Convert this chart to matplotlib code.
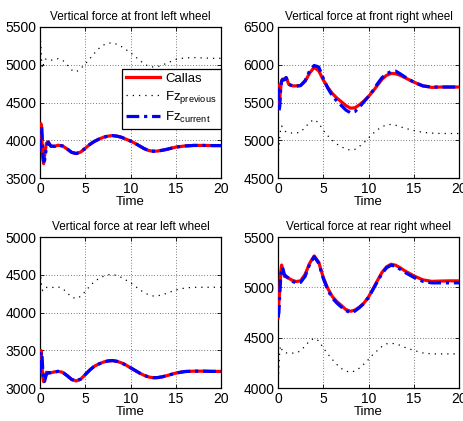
import matplotlib
matplotlib.use("Agg")
import matplotlib.pyplot as plt

plt.rcParams["font.family"] = ["Liberation Sans", "DejaVu Sans"]
plt.rcParams["mathtext.default"] = "regular"

# sample times (s), shared by every series
T = [0, 0.1, 0.2, 0.3, 0.4, 0.5, 0.7, 0.9, 1.2, 1.6, 2.0, 2.5, 3.0, 3.5, 4.0, 4.5,
     5.0, 5.5, 6.0, 6.5, 7.0, 7.5, 8.0, 8.5, 9.0, 9.5, 10.0, 10.5, 11.0, 11.5, 12.0,
     12.5, 13.0, 13.5, 14.0, 15.0, 16.0, 17.0, 18.0, 19.0, 20.0]

# front left
FL_CALLAS = [3900, 4220, 4050, 3780, 3690, 3790, 3960, 3980, 3920, 3920, 3935, 3925, 3885,
             3840, 3825, 3845, 3895, 3945, 3985, 4015, 4040, 4055, 4062, 4055, 4040, 4015,
             3990, 3960, 3925, 3890, 3865, 3855, 3858, 3868, 3880, 3910, 3925, 3932, 3932,
             3930, 3930]
FL_CURRENT = [3850, 4150, 4180, 3850, 3720, 3730, 3900, 3975, 3925, 3920, 3935, 3925, 3885,
              3840, 3825, 3845, 3895, 3945, 3985, 4015, 4040, 4055, 4062, 4055, 4040, 4015,
              3990, 3960, 3925, 3890, 3865, 3855, 3858, 3868, 3880, 3910, 3925, 3932, 3932,
              3930, 3930]
FL_PREVIOUS = [5400, 5250, 5000, 4950, 5020, 5060, 5080, 5070, 5060, 5065, 5080, 5060, 5000,
               4930, 4905, 4950, 5010, 5080, 5150, 5215, 5260, 5285, 5290, 5270, 5240, 5200,
               5160, 5110, 5060, 5010, 4980, 4970, 4975, 4995, 5020, 5070, 5090, 5095, 5090,
               5085, 5085]

# front right
FR_CALLAS = [5730, 5450, 5550, 5700, 5790, 5810, 5810, 5830, 5740, 5720, 5720, 5725, 5780,
             5890, 5965, 5920, 5800, 5700, 5620, 5560, 5510, 5460, 5425, 5430, 5470, 5520,
             5580, 5650, 5730, 5810, 5860, 5885, 5880, 5860, 5830, 5770, 5720, 5700, 5705,
             5705, 5705]
FR_CURRENT = [5700, 5380, 5450, 5700, 5780, 5800, 5800, 5830, 5740, 5720, 5715, 5725, 5790,
              5920, 5990, 5970, 5820, 5690, 5590, 5520, 5460, 5400, 5365, 5380, 5440, 5510,
              5580, 5660, 5750, 5830, 5880, 5910, 5915, 5880, 5840, 5770, 5720, 5705, 5705,
              5705, 5705]
FR_PREVIOUS = [4780, 4900, 5050, 5150, 5190, 5170, 5130, 5110, 5100, 5095, 5095, 5110, 5170,
               5240, 5275, 5230, 5130, 5060, 5000, 4950, 4915, 4885, 4870, 4880, 4920, 4970,
               5030, 5090, 5140, 5180, 5205, 5210, 5200, 5180, 5160, 5130, 5105, 5095, 5090,
               5090, 5090]

# rear left
RL_CALLAS = [3300, 3500, 3350, 3150, 3085, 3120, 3210, 3200, 3205, 3215, 3222, 3210, 3165,
             3115, 3095, 3120, 3180, 3240, 3290, 3320, 3345, 3360, 3365, 3355, 3335, 3305,
             3270, 3235, 3200, 3170, 3148, 3138, 3140, 3150, 3165, 3200, 3220, 3225, 3225,
             3222, 3222]
RL_CURRENT = [3200, 3450, 3480, 3250, 3100, 3090, 3180, 3205, 3205, 3215, 3222, 3210, 3165,
              3115, 3095, 3120, 3180, 3240, 3290, 3320, 3345, 3360, 3365, 3355, 3335, 3305,
              3270, 3235, 3200, 3170, 3148, 3138, 3140, 3150, 3165, 3200, 3220, 3225, 3225,
              3222, 3222]
RL_PREVIOUS = [4550, 4450, 4320, 4290, 4310, 4330, 4335, 4330, 4330, 4335, 4340, 4320, 4260,
               4205, 4185, 4215, 4280, 4350, 4410, 4450, 4480, 4500, 4505, 4490, 4465, 4430,
               4395, 4350, 4305, 4265, 4235, 4220, 4222, 4235, 4255, 4300, 4325, 4335, 4335,
               4335, 4335]

# rear right
RR_CALLAS = [4700, 4850, 5000, 5150, 5222, 5180, 5110, 5105, 5090, 5070, 5058, 5065, 5130,
             5240, 5312, 5250, 5100, 4990, 4910, 4860, 4820, 4780, 4763, 4775, 4805, 4845,
             4905, 4985, 5070, 5150, 5205, 5230, 5220, 5195, 5165, 5115, 5075, 5060, 5063,
             5065, 5065]
RR_CURRENT = [4700, 4750, 4950, 5100, 5180, 5200, 5130, 5110, 5090, 5060, 5045, 5050, 5110,
              5230, 5305, 5240, 5090, 4975, 4895, 4845, 4805, 4770, 4750, 4765, 4800, 4840,
              4900, 4980, 5060, 5140, 5195, 5220, 5210, 5180, 5150, 5100, 5060, 5045, 5045,
              5045, 5045]
RR_PREVIOUS = [4020, 4200, 4380, 4420, 4390, 4365, 4355, 4350, 4350, 4348, 4350, 4370, 4420,
               4470, 4495, 4470, 4400, 4340, 4285, 4235, 4195, 4170, 4158, 4170, 4200, 4240,
               4285, 4335, 4375, 4415, 4440, 4445, 4440, 4425, 4405, 4375, 4350, 4340, 4340,
               4340, 4340]

TITLES = ["Vertical force at front left wheel", "Vertical force at front right wheel",
          "Vertical force at rear left wheel", "Vertical force at rear right wheel"]
YLIMS = [(3500, 5500), (4500, 6500), (3000, 5000), (4000, 5500)]
SERIES = [(FL_CALLAS, FL_PREVIOUS, FL_CURRENT), (FR_CALLAS, FR_PREVIOUS, FR_CURRENT),
          (RL_CALLAS, RL_PREVIOUS, RL_CURRENT), (RR_CALLAS, RR_PREVIOUS, RR_CURRENT)]

# axes boxes in figure fractions [left, bottom, width, height]
BOXES = [[0.0864, 0.577, 0.391, 0.359], [0.6004, 0.577, 0.391, 0.359],
         [0.0864, 0.078, 0.391, 0.359], [0.6004, 0.078, 0.391, 0.359]]

fig = plt.figure(figsize=(4.63, 4.21), dpi=100)
fig.patch.set_facecolor("white")

for i, (title, ylim, (callas, prev, cur), box) in enumerate(zip(TITLES, YLIMS, SERIES, BOXES)):
    ax = fig.add_axes(box)
    ax.plot(T, callas, color="red", lw=2.3, label="Callas", zorder=3)
    ax.plot(T, prev, color="black", lw=0.9, linestyle=(0, (1, 4)),
            label=r"Fz$_{previous}$", zorder=3)
    ax.plot(T, cur, color="blue", lw=2.3, linestyle=(0, (4, 1.5, 1, 1.5)),
            label=r"Fz$_{current}$", zorder=4)
    ax.set_xlim(0, 20)
    ax.set_ylim(*ylim)
    ax.set_xticks([0, 5, 10, 15, 20])
    ax.set_yticks(range(ylim[0], ylim[1] + 1, 500))
    ax.grid(True, color="black", linestyle=(0, (1, 3)), lw=0.5)
    ax.tick_params(direction="in", top=True, right=True, labelsize=10, length=3, width=0.6,
                   pad=2.5)
    for s in ax.spines.values():
        s.set_linewidth(0.9)
    ax.set_title(title, fontsize=8.5, pad=5)
    ax.set_xlabel("Time", fontsize=9.5, labelpad=0)
    if i == 0:
        leg = ax.legend(loc="upper right", bbox_to_anchor=(1.0, 0.725), borderaxespad=0,
                        fontsize=9.5, fancybox=False, framealpha=1, edgecolor="black",
                        handlelength=2.6, labelspacing=0.3, borderpad=0.3, handletextpad=0.4)
        leg.get_frame().set_linewidth(0.9)
        leg.set_zorder(5)

fig.savefig("out.png", dpi=100, facecolor="white")
